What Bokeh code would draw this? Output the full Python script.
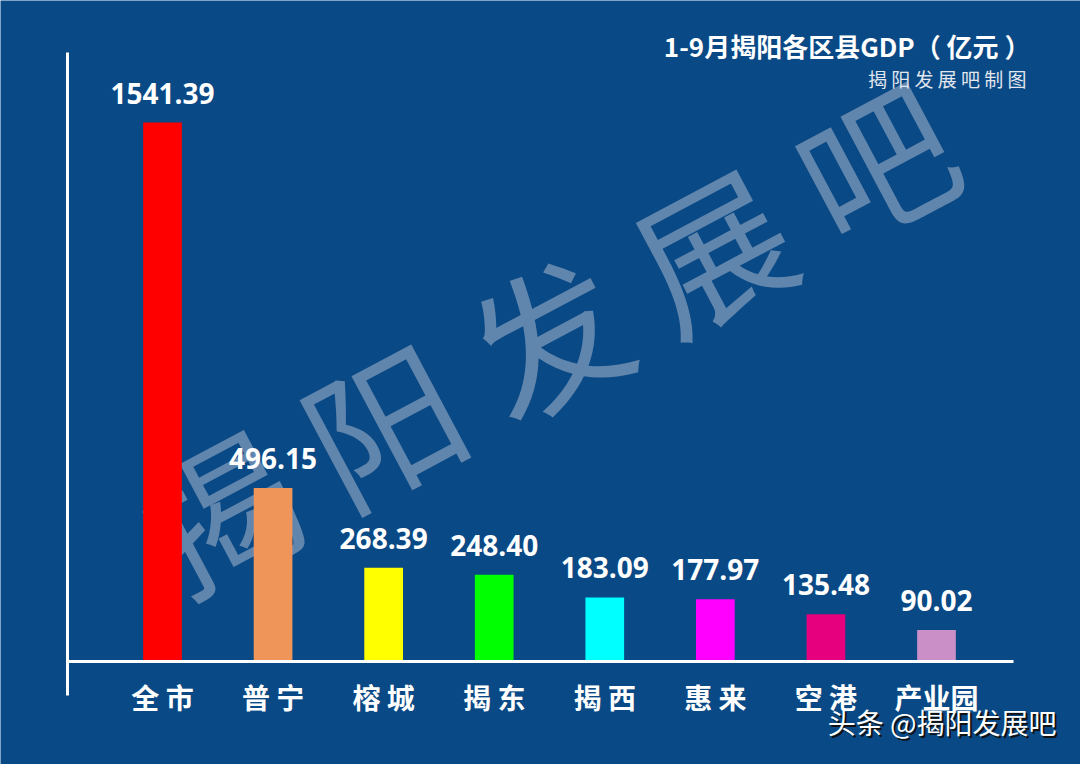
from bokeh.plotting import figure
from bokeh.models import Range1d, Label, LabelSet, ColumnDataSource, FixedTicker, LinearAxis
from bokeh.core.properties import value
from bokeh.embed import file_html
from bokeh.resources import INLINE

# ---- data ----
categories = ["全市", "普宁", "榕城", "揭东", "揭西", "惠来", "空港", "产业园"]
tick_labels = ["全 市", "普 宁", "榕 城", "揭 东", "揭 西", "惠 来", "空 港", "产业园"]
gdp = [1541.39, 496.15, 268.39, 248.40, 183.09, 177.97, 135.48, 90.02]
colors = ["#ff0000", "#f0955a", "#ffff00", "#00ff00", "#00ffff", "#ff00ff", "#e6007e", "#c98fc6"]

BG = "#094985"
CJK = "Noto Sans CJK SC"
W, H = 1080, 764

# pixel -> data helpers for layout (frame covers the whole canvas)
X0, XS = 162.0, 110.57      # center of first bar, px per category
Y0, YS = 661.0, 0.34968     # baseline px, px per unit

def px2x(px):
    return (px - X0) / XS

def px2y(py):
    return (Y0 - py) / YS

p = figure(width=W, height=H, output_backend="svg", toolbar_location=None,
           x_range=Range1d(px2x(0), px2x(W)),
           y_range=Range1d(px2y(H), px2y(0)),
           x_axis_type=None, y_axis_type=None,
           min_border=0)
p.background_fill_color = BG
p.border_fill_color = BG
p.outline_line_color = None
p.grid.grid_line_color = None

idx = list(range(len(categories)))
src = ColumnDataSource(dict(x=idx, top=gdp, color=colors,
                            lab=[f"{v:.2f}" for v in gdp]))

# big watermark (behind bars)
p.add_layout(Label(x=px2x(545), y=px2y(332), text="揭 阳 发 展 吧",
                   angle=28, angle_units="deg",
                   text_align="center", text_baseline="middle",
                   text_font=CJK, text_font_size="152px",
                   text_color="#b9c3d8", text_alpha=0.5,
                   level="underlay"))

p.vbar(x="x", top="top", width=0.35, color="color", line_color=None, source=src)

p.add_layout(LabelSet(x="x", y="top", text="lab", source=src,
                      text_align="center", text_baseline="bottom", y_offset=19,
                      text_font=value("Open Sans"), text_font_style="bold",
                      text_font_size="28px", text_color="white"))

# axes drawn inside the frame
xax = LinearAxis(fixed_location=0, bounds=(px2x(67), px2x(1013)))
xax.ticker = FixedTicker(ticks=idx)
xax.major_label_overrides = {i: t for i, t in zip(idx, tick_labels)}
xax.axis_line_color = "white"
xax.axis_line_width = 3
xax.major_tick_line_color = None
xax.minor_tick_line_color = None
xax.major_label_standoff = 9
xax.major_label_text_font = CJK
xax.major_label_text_font_style = "bold"
xax.major_label_text_font_size = "28px"
xax.major_label_text_color = "white"
p.add_layout(xax, "below")

yax = LinearAxis(fixed_location=px2x(67), bounds=(px2y(695), px2y(52)))
yax.ticker = FixedTicker(ticks=[])
yax.axis_line_color = "white"
yax.axis_line_width = 3
yax.major_tick_line_color = None
yax.minor_tick_line_color = None
p.add_layout(yax, "left")

# titles
p.add_layout(Label(x=px2x(1030), y=px2y(45), text="1-9月揭阳各区县GDP（ 亿元 ）",
                   text_align="right", text_baseline="middle",
                   text_font=CJK, text_font_style="bold", text_font_size="26px",
                   text_color="white"))
p.add_layout(Label(x=px2x(1026), y=px2y(78), text="揭 阳 发 展 吧 制 图",
                   text_align="right", text_baseline="middle",
                   text_font=CJK, text_font_size="19px", text_color="#e2e6ee"))

# source watermark bottom-right
for dx, dy, col in [(2, -2, "#111111"), (0, 0, "white")]:
    p.add_layout(Label(x=px2x(1056), y=px2y(721), x_offset=dx, y_offset=dy,
                       text="头条 @揭阳发展吧",
                       text_align="right", text_baseline="middle",
                       text_font=CJK, text_font_size="28px", text_color=col))

html = file_html(p, INLINE)
html = html.replace("<body>", '<body style="margin:0;background-color:%s;">' % BG, 1)
open("out.html", "w").write(html)
